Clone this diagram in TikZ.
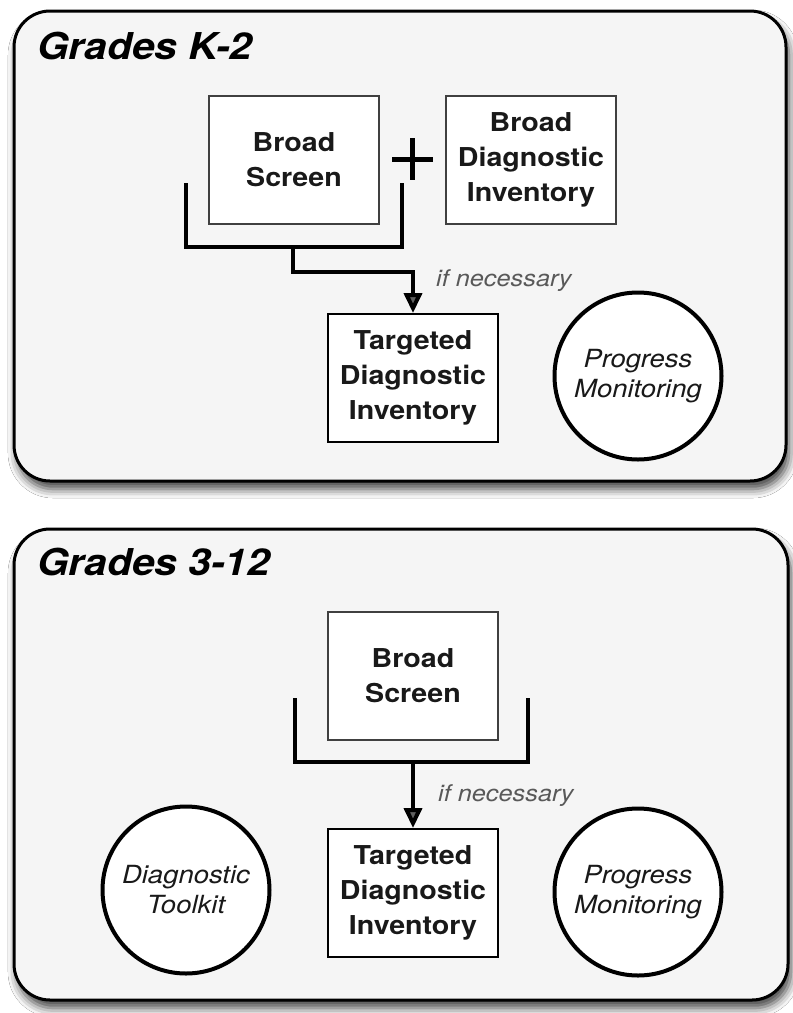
\documentclass[tikz,border=0pt]{standalone}
\usepackage{fontspec}
\setmainfont{TeX Gyre Heros}[FakeStretch=1.1]
\usetikzlibrary{arrows.meta,shadows.blur}
\definecolor{panelgray}{gray}{0.96}

\begin{document}
\begin{tikzpicture}[x=1pt,y=-1pt,
        panel/.style={draw=black,line width=3pt,fill=panelgray,rounded corners=36pt,
            blur shadow={shadow xshift=3pt,shadow yshift=-8pt,shadow blur radius=9pt,shadow opacity=75}},
        box/.style={rectangle,draw=black!75,line width=2pt,fill=white,minimum width=170pt,
            minimum height=128pt,inner sep=0pt,align=center,text=black!90,
            font=\bfseries\fontsize{26}{35}\selectfont},
        tbox/.style={box,draw=black},
        ring/.style={circle,draw=black,line width=4pt,fill=white,minimum size=167pt,
            inner sep=0pt,align=center,text=black!90,font=\itshape\fontsize{25}{30}\selectfont},
        title/.style={anchor=base west,inner sep=0pt,font=\bfseries\itshape\fontsize{37}{40}\selectfont},
        note/.style={anchor=base west,inner sep=0pt,text=black!65,font=\itshape\fontsize{23}{26}\selectfont},
        bracket/.style={line width=4pt},
        flow/.style={line width=4pt,-{Triangle[length=20pt,width=18pt]}},
        plus/.style={line width=5pt}]
        \fill[white] (0,0) rectangle (793,1013);
        \useasboundingbox (0,0) rectangle (793,1013);

        % Grades K-2
        \draw[panel] (14,11) rectangle (786,481);
        \draw (37,59) node[title] (k2) {Grades K-2};
        \draw (294,160) node[box] (bs1) {Broad\\Screen};
        \draw (531,160) node[box] (bdi) {Broad\\Diagnostic\\Inventory};
        \draw (413,378) node[tbox] (tdi1) {Targeted\\Diagnostic\\Inventory};
        \draw (638,376) node[ring] (pm1) {Progress\\Monitoring};
        \draw (436,286) node[note] (if1) {if necessary};
        \draw[plus] (392,159) -- (433,159) (412,138) -- (412,180);

        \coordinate (b1a) at (186,183);
        \coordinate (b1b) at (402,183);
        \coordinate (s1) at (293,247);
        \draw[bracket] (b1a) |- (s1) -| (b1b);
        \draw[flow] (s1) -- (293,272) -| (tdi1.north);

        % Grades 3-12
        \draw[panel] (14,529) rectangle (788,1000);
        \draw (37,575) node[title] (g312) {Grades 3-12};
        \draw (413,676) node[box] (bs2) {Broad\\Screen};
        \draw (413,893) node[tbox] (tdi2) {Targeted\\Diagnostic\\Inventory};
        \draw (186,890) node[ring] (dt) {Diagnostic\\Toolkit};
        \draw (638,892) node[ring] (pm2) {Progress\\Monitoring};
        \draw (438,801) node[note] (if2) {if necessary};

        \coordinate (b2a) at (295,698);
        \coordinate (b2b) at (528,698);
        \coordinate (s2) at (413,762);
        \draw[bracket] (b2a) |- (s2) -| (b2b);
        \draw[flow] (s2) -- (tdi2.north);
    \end{tikzpicture}
\end{document}
